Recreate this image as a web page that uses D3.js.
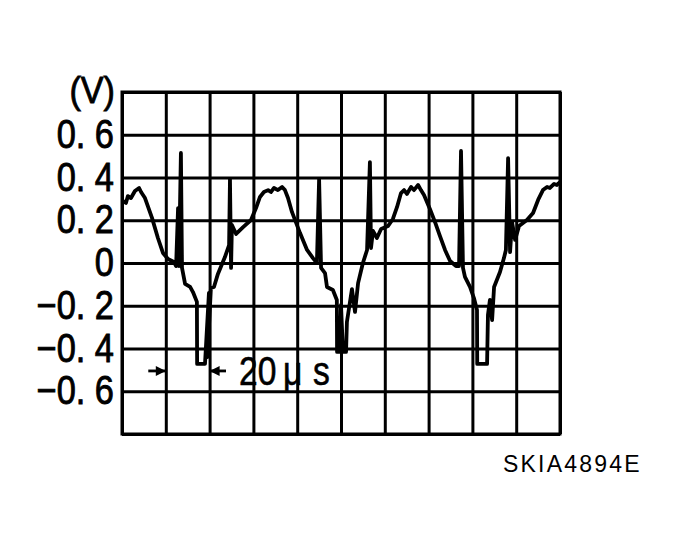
<!DOCTYPE html>
<html><head><meta charset="utf-8">
<script src="https://cdn.jsdelivr.net/npm/d3@7"></script>
<style>html,body{margin:0;padding:0;background:#fff;} svg{display:block}</style>
</head><body>
<script>
// time in microseconds (10 divisions x 20 us)
const timeUs = [
  0.5, 1.8, 2.7, 4.1, 5.9, 7.8, 8.7, 10.5, 13.7, 16.4,
  18.7, 21.0, 23.7, 24.7, 25.6, 26.0, 26.9, 27.4, 28.8, 31.1,
  32.4, 34.2, 34.3, 37.9, 39.7, 39.0, 40.6, 42.0, 43.8, 47.0,
  48.9, 49.3, 49.8, 50.2, 52.1, 55.3, 58.9, 61.2, 63.0, 64.8,
  66.7, 68.0, 69.4, 71.2, 73.1, 74.4, 75.8, 77.6, 81.3, 84.5,
  87.2, 89.0, 90.0, 90.9, 92.7, 93.6, 96.3, 98.1, 98.2, 99.5,
  100.0, 100.9, 102.3, 102.7, 105.0, 106.4, 107.8, 110.0, 111.9, 113.2,
  113.7, 114.6, 116.4, 118.3, 121.5, 123.7, 125.6, 127.4, 128.8, 130.1,
  132.0, 133.3, 135.2, 136.5, 137.9, 140.6, 142.9, 145.2, 147.5, 149.8,
  152.5, 153.9, 154.8, 155.7, 156.6, 158.9, 160.7, 162.1, 162.2, 166.7,
  167.1, 168.0, 169.0, 169.9, 172.6, 174.4, 175.3, 176.3, 177.2, 178.1,
  179.5, 181.3, 184.9, 187.7, 190.0, 192.2, 194.1, 195.4, 197.3, 198.6,
  200.0
];
// voltage in volts
const volts = [
  0.290, 0.281, 0.313, 0.304, 0.337, 0.351, 0.332, 0.304, 0.211, 0.117,
  0.047, 0.019, 0.005, -0.014, 0.257, -0.014, 0.515, -0.023, -0.098, -0.112,
  -0.136, -0.182, -0.472, -0.472, -0.140, -0.440, -0.117, -0.112, -0.051, 0.028,
  0.084, 0.393, -0.023, 0.178, 0.136, 0.168, 0.201, 0.257, 0.309, 0.332,
  0.341, 0.332, 0.351, 0.341, 0.356, 0.341, 0.304, 0.239, 0.140, 0.061,
  0.023, 0.000, 0.393, -0.023, -0.047, -0.112, -0.126, -0.173, -0.416, -0.416,
  -0.196, -0.416, -0.416, -0.276, -0.122, -0.229, -0.094, 0.000, 0.061, 0.472,
  0.070, 0.150, 0.117, 0.159, 0.173, 0.206, 0.262, 0.327, 0.341, 0.323,
  0.356, 0.341, 0.365, 0.341, 0.318, 0.253, 0.192, 0.126, 0.061, 0.009,
  -0.014, -0.014, 0.524, -0.023, -0.065, -0.112, -0.164, -0.220, -0.472, -0.472,
  -0.243, -0.173, -0.267, -0.112, -0.042, 0.023, 0.061, 0.491, 0.051, 0.192,
  0.108, 0.173, 0.201, 0.234, 0.295, 0.341, 0.356, 0.351, 0.370, 0.365,
  0.379
];
const yTickValues = [0.6, 0.4, 0.2, 0, -0.2, -0.4, -0.6];
const yTickLabels = ["0. 6", "0. 4", "0. 2", "0", "\u22120. 2", "\u22120. 4", "\u22120. 6"];
const xGridValues = [0, 20, 40, 60, 80, 100, 120, 140, 160, 180, 200];
const yGridValues = [-0.8, -0.6, -0.4, -0.2, 0, 0.2, 0.4, 0.6, 0.8];
const unitLabel = "(V)";
const scaleParts = ["20", "\u03bc", "s"];
const figureCode = "SKIA4894E";

const W = 679, H = 547;
const svg = d3.select("body").append("svg").attr("width", W).attr("height", H);
svg.append("rect").attr("width", W).attr("height", H).attr("fill", "#fff");

const x = d3.scaleLinear().domain([0, 200]).range([122, 560]);
const y = d3.scaleLinear().domain([-0.8, 0.8]).range([434, 92]);

const gridW = 3;
// vertical grid
const gx = svg.append("g").attr("transform", `translate(0,${y(-0.8)})`)
  .call(d3.axisBottom(x).tickValues(xGridValues).tickSize(-(y(-0.8) - y(0.8))).tickFormat(""));
gx.select(".domain").remove();
gx.selectAll("line").attr("stroke", "#000").attr("stroke-width", gridW);
// horizontal grid
const gy = svg.append("g").attr("transform", `translate(${x(0)},0)`)
  .call(d3.axisLeft(y).tickValues(yGridValues).tickSize(-(x(200) - x(0))).tickFormat(""));
gy.select(".domain").remove();
gy.selectAll("line").attr("stroke", "#000").attr("stroke-width", gridW);
svg.append("rect").attr("x", x(0)).attr("y", y(0.8))
  .attr("width", x(200) - x(0)).attr("height", y(-0.8) - y(0.8))
  .attr("fill", "none").attr("stroke", "#000").attr("stroke-width", gridW);

// y labels
const font = "'Liberation Sans', Arial, sans-serif";
yTickValues.forEach((v, i) => {
  svg.append("text")
    .attr("transform", `translate(114,${y(v) + 13}) scale(0.86,1)`)
    .attr("text-anchor", "end")
    .attr("font-family", font).attr("font-size", 40)
    .attr("fill", "#000").attr("stroke", "#000").attr("stroke-width", 0.9)
    .text(yTickLabels[i]);
});
svg.append("text")
  .attr("transform", `translate(115,${y(0.8) + 11}) scale(0.95,1)`)
  .attr("text-anchor", "end")
  .attr("font-family", font).attr("font-size", 36)
  .attr("fill", "#000").attr("stroke", "#000").attr("stroke-width", 0.8)
  .text(unitLabel);

// waveform
const pts = timeUs.map((t, i) => ({t, v: volts[i]}));
const line = d3.line().x(d => x(d.t)).y(d => y(d.v));
svg.append("path").datum(pts).attr("d", line)
  .attr("fill", "none").attr("stroke", "#000").attr("stroke-width", 3.8)
  .attr("stroke-linejoin", "round").attr("stroke-linecap", "butt");

// 20 us scale arrows
const ay = y(-0.505);
function arrow(x1, x2) {
  svg.append("line").attr("x1", x1).attr("x2", x2).attr("y1", ay).attr("y2", ay)
    .attr("stroke", "#000").attr("stroke-width", 2.8);
  const dir = Math.sign(x2 - x1);
  svg.append("path")
    .attr("d", `M${x2},${ay} L${x2 - dir * 10},${ay - 5} L${x2 - dir * 10},${ay + 5} Z`)
    .attr("fill", "#000");
}
arrow(x(12), x(20));
arrow(x(47.5), x(40));

const sFont = 41, sScale = 0.82, sBase = 385;
[[scaleParts[0], 239], [scaleParts[1], 283], [scaleParts[2], 313]].forEach(([s, px]) => {
  svg.append("text")
    .attr("transform", `translate(${px},${sBase}) scale(${sScale},1)`)
    .attr("font-family", font).attr("font-size", sFont)
    .attr("fill", "#000").attr("stroke", "#000").attr("stroke-width", 0.6)
    .text(s);
});

svg.append("text").attr("x", 503).attr("y", 472)
  .attr("font-family", font).attr("font-size", 23)
  .attr("letter-spacing", 2.2)
  .attr("fill", "#000").text(figureCode);
</script>
</body></html>
